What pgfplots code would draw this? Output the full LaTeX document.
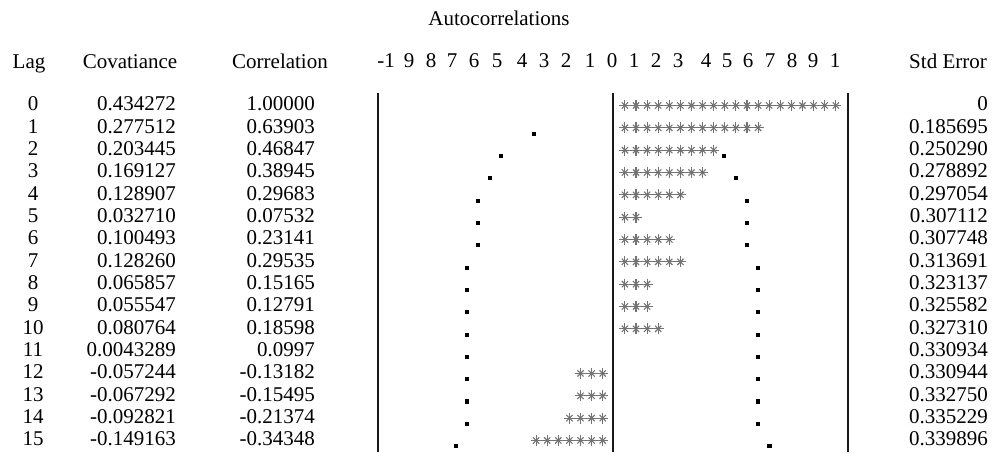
\documentclass[border=0pt]{standalone}
\usepackage{pgfplots}
\pgfplotsset{compat=1.18}
\usepackage{pgfplotstable}
\usepackage{fontspec}
\setmainfont{Liberation Serif}
\newcommand\fs{\fontsize{21}{24}\selectfont}

% lag, covariance, correlation, standard error
\pgfplotstableread{
lag cov corr se
0 0.434272 1.00000 0
1 0.277512 0.63903 0.185695
2 0.203445 0.46847 0.250290
3 0.169127 0.38945 0.278892
4 0.128907 0.29683 0.297054
5 0.032710 0.07532 0.307112
6 0.100493 0.23141 0.307748
7 0.128260 0.29535 0.313691
8 0.065857 0.15165 0.323137
9 0.055547 0.12791 0.325582
10 0.080764 0.18598 0.327310
11 0.0043289 0.0997 0.330934
12 -0.057244 -0.13182 0.330944
13 -0.067292 -0.15495 0.332750
14 -0.092821 -0.21374 0.335229
15 -0.149163 -0.34348 0.339896
}\acf

% positions of the "." band marks (correlation units)
\pgfplotstableread{
lag r
1 -0.3375
2 -0.478
2 0.471
3 -0.525
3 0.522
4 -0.576
4 0.569
5 -0.576
5 0.569
6 -0.576
6 0.569
7 -0.623
7 0.616
8 -0.623
8 0.616
9 -0.623
9 0.616
10 -0.623
10 0.616
11 -0.623
11 0.616
12 -0.623
12 0.616
13 -0.623
13 0.616
14 -0.623
14 0.616
15 -0.669
15 0.663
}\bandtab

% stars: signed star index k (positive right of 0, negative left), lag
\pgfplotstableread{
k lag
1 0
2 0
3 0
4 0
5 0
6 0
7 0
8 0
9 0
10 0
11 0
12 0
13 0
14 0
15 0
16 0
17 0
18 0
19 0
20 0
1 1
2 1
3 1
4 1
5 1
6 1
7 1
8 1
9 1
10 1
11 1
12 1
13 1
1 2
2 2
3 2
4 2
5 2
6 2
7 2
8 2
9 2
1 3
2 3
3 3
4 3
5 3
6 3
7 3
8 3
1 4
2 4
3 4
4 4
5 4
6 4
1 5
2 5
1 6
2 6
3 6
4 6
5 6
1 7
2 7
3 7
4 7
5 7
6 7
1 8
2 8
3 8
1 9
2 9
3 9
1 10
2 10
3 10
4 10
-1 12
-2 12
-3 12
-1 13
-2 13
-3 13
-1 14
-2 14
-3 14
-4 14
-1 15
-2 15
-3 15
-4 15
-5 15
-6 15
-7 15
}\startab

% scale header labels
\pgfplotstableread{
x lab
386 -1
409 9
431 8
452 7
474 6
497 5
522 4
544 3
566 2
590 1
612 0
634 1
656 2
678 3
706 4
727 5
748 6
770 7
792 8
813 9
835 1
}\scaletab

\begin{document}
\begin{tikzpicture}
\begin{axis}[
  width=996pt, height=458pt, scale only axis,
  xmin=0, xmax=996, ymin=0, ymax=458, y dir=reverse,
  hide axis, clip=false]
\path (rel axis cs:0,0) rectangle (rel axis cs:1,1);

% vertical lines at -1, 0, 1
\addplot[black!90, line width=2.1pt] coordinates {(378.3,93) (378.3,452)};
\addplot[black!90, line width=2.1pt] coordinates {(613.3,93) (613.3,452)};
\addplot[black!90, line width=2.1pt] coordinates {(848.3,93) (848.3,452)};

% stars
\addplot[only marks, mark=x, mark size=4.4pt, black!55, line width=1.1pt]
  table[x expr=613.8+11.1*\thisrow{k}, y expr=105.5+22.33*\thisrow{lag}] {\startab};
\addplot[only marks, mark=+, mark size=5.6pt, black!55, line width=1.1pt]
  table[x expr=613.8+11.1*\thisrow{k}, y expr=105.5+22.33*\thisrow{lag}] {\startab};

% band dots
\addplot[only marks, mark=square*, mark size=1.6pt, black]
  table[x expr=613.3+235*\thisrow{r}, y expr=111+22.33*\thisrow{lag}] {\bandtab};

% text columns
\addplot[draw=none, mark=none, nodes near coords, point meta=explicit symbolic,
  every node near coord/.style={anchor=center, inner sep=0pt, font=\fs}]
  table[x expr=33, y expr=104+22.33*\thisrow{lag}, meta=lag] {\acf};
\addplot[draw=none, mark=none, nodes near coords, point meta=explicit symbolic,
  every node near coord/.style={anchor=east, inner sep=0pt, font=\fs}]
  table[x expr=176, y expr=104+22.33*\thisrow{lag}, meta=cov] {\acf};
\addplot[draw=none, mark=none, nodes near coords, point meta=explicit symbolic,
  every node near coord/.style={anchor=east, inner sep=0pt, font=\fs}]
  table[x expr=315, y expr=104+22.33*\thisrow{lag}, meta=corr] {\acf};
\addplot[draw=none, mark=none, nodes near coords, point meta=explicit symbolic,
  every node near coord/.style={anchor=east, inner sep=0pt, font=\fs}]
  table[x expr=988, y expr=104+22.33*\thisrow{lag}, meta=se] {\acf};

% scale header
\addplot[draw=none, mark=none, nodes near coords, point meta=explicit symbolic,
  every node near coord/.style={anchor=center, inner sep=0pt, font=\fs}]
  table[x=x, y expr=61, meta=lab] {\scaletab};

% titles / headers (aligned on a common baseline)
\node[font=\fs, inner sep=0pt, anchor=base] at (axis cs:499,25) {Autocorrelations};
\node[font=\fs, inner sep=0pt, anchor=base] at (axis cs:29,68) {Lag};
\node[font=\fs, inner sep=0pt, anchor=base] at (axis cs:130,68) {Covatiance};
\node[font=\fs, inner sep=0pt, anchor=base] at (axis cs:280,68) {Correlation};
\node[font=\fs, inner sep=0pt, anchor=base east] at (axis cs:987,68) {Std Error};
\end{axis}
\end{tikzpicture}
\end{document}
